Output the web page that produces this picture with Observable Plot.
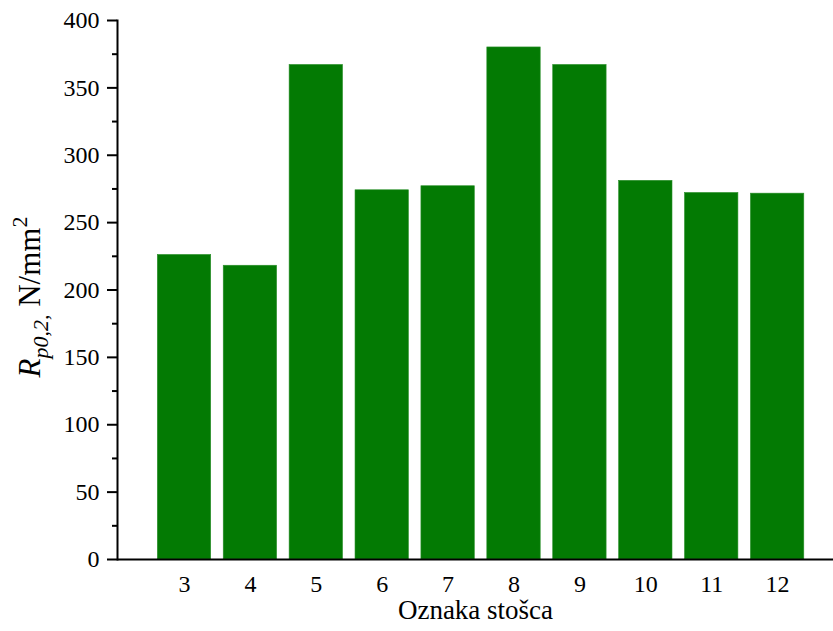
<!DOCTYPE html>
<html>
<head>
<meta charset="utf-8">
<script src="https://cdn.jsdelivr.net/npm/d3@7"></script>
<script src="https://cdn.jsdelivr.net/npm/@observablehq/plot@0.6"></script>
<style>
  html, body { margin: 0; padding: 0; background: #fff; }
  #chart svg { display: block; }
  #chart svg text, #chart svg tspan { font-family: "Liberation Serif", "Times New Roman", serif !important; }
</style>
</head>
<body>
<div id="chart"></div>
<script>
const categories = ["3", "4", "5", "6", "7", "8", "9", "10", "11", "12"];
const values = [226, 218, 367, 274, 277, 380, 367, 281, 272, 271.5];
const majorTicks = [0, 50, 100, 150, 200, 250, 300, 350, 400];
const minorTicks = [25, 75, 125, 175, 225, 275, 325, 375];
const xLabel = "Oznaka stošca";

const data = categories.map((c, i) => ({cat: c, value: values[i]}));
const font = "Liberation Serif, Times New Roman, serif";

const chart = Plot.plot({
  width: 833,
  height: 631,
  marginLeft: 117,
  marginRight: 0,
  marginTop: 20,
  marginBottom: 72,
  style: {fontFamily: font, background: "#fff", color: "#000"},
  x: {domain: categories, paddingInner: 0.19, paddingOuter: 0.5275, align: 0.58, round: false},
  y: {domain: [0, 400]},
  marks: [
    Plot.barY(data, {x: "cat", y: "value", fill: "#037a03", stroke: "#2a8f2a", strokeWidth: 0.6}),
    Plot.axisY({ticks: majorTicks, tickSize: 10, tickPadding: 8, strokeWidth: 2, fontSize: 24, label: null}),
    Plot.axisY({ticks: minorTicks, tickSize: 5, tickFormat: () => "", strokeWidth: 2, label: null}),
    Plot.axisX({tickSize: 0, tickPadding: 15, fontSize: 24, label: null}),
    Plot.frame({anchor: "left", strokeWidth: 2}),
    Plot.ruleY([0], {strokeWidth: 2}),
    Plot.text([xLabel], {frameAnchor: "bottom", dy: 59, fontSize: 27})
  ]
});

document.getElementById("chart").appendChild(chart);

// y-axis label with subscript and superscript
const svg = d3.select(chart);
const t = svg.append("text")
  .attr("transform", "translate(40,297) rotate(-90)")
  .attr("text-anchor", "middle")
  .attr("font-size", 31)
  .attr("fill", "#000");
t.append("tspan").attr("font-style", "italic").text("R");
t.append("tspan").attr("font-style", "italic").attr("font-size", 22).attr("dy", 8).text("p0,2,");
t.append("tspan").attr("dy", -8).text(" N/mm");
t.append("tspan").attr("font-size", 22).attr("dy", -13).text("2");
</script>
</body>
</html>
